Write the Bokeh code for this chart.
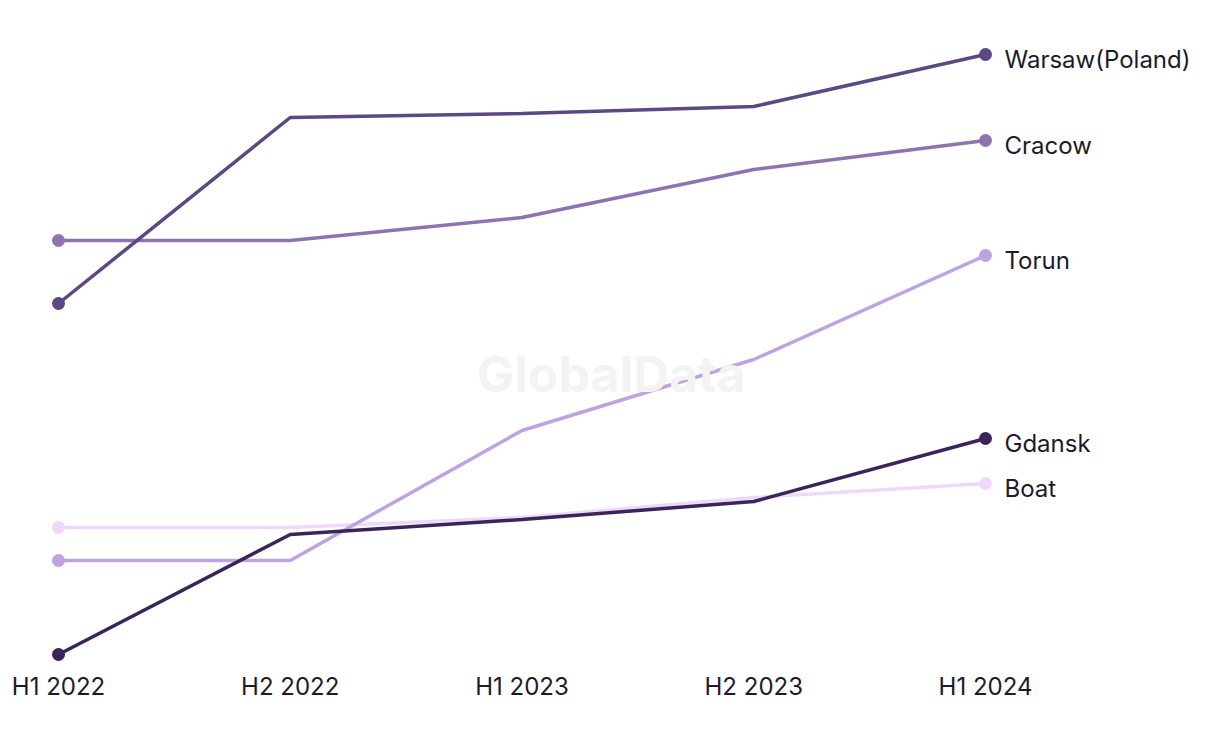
from bokeh.plotting import figure
from bokeh.models import Range1d, FixedTicker, Label, ColumnDataSource
from bokeh.core.properties import value
from bokeh.embed import file_html
from bokeh.resources import INLINE

periods = ["H1 2022", "H2 2022", "H1 2023", "H2 2023", "H1 2024"]
warsaw = [397, 583, 587, 594, 646]
cracow = [460, 460, 483, 531, 560]
torun = [140, 140, 270, 341, 445]
gdansk = [46, 166, 181, 199, 262]
boat = [173, 173, 183, 203, 217]

series = [
    ("Boat", boat, "#efd8fb"),
    ("Torun", torun, "#bea3e1"),
    ("Cracow", cracow, "#8d74b1"),
    ("Warsaw(Poland)", warsaw, "#5c4882"),
    ("Gdansk", gdansk, "#3a2458"),
]

FONT = "Inter"
TXT = "#1c1a2e"

x = list(range(len(periods)))
step = 231.75
p = figure(width=1220, height=744, output_backend="svg", toolbar_location=None,
           x_range=Range1d(-58 / step, (1220 - 58) / step),
           y_range=Range1d(35, 700),
           min_border_left=0, min_border_right=0, min_border_top=0, min_border_bottom=0)
p.outline_line_color = None
p.grid.visible = False
p.yaxis.visible = False
p.background_fill_color = "white"
p.border_fill_color = "white"

xa = p.xaxis[0]
xa.ticker = FixedTicker(ticks=x)
xa.major_label_overrides = {i: s for i, s in enumerate(periods)}
xa.axis_line_color = None
xa.major_tick_line_color = None
xa.minor_tick_line_color = None
xa.major_label_text_font = FONT
xa.major_label_text_font_size = "24px"
xa.major_label_text_color = TXT
xa.major_label_standoff = 0
p.min_border_bottom = 79

wm = Label(x=2.385, y=327, text="GlobalData", text_font=FONT, text_font_size="50px",
           text_font_style="bold", text_color="#f3f3f3", text_align="center",
           text_baseline="middle")
p.add_layout(wm)

for name, vals, col in series:
    p.line(x, vals, line_color=col, line_width=3.5)
    p.scatter([x[0], x[-1]], [vals[0], vals[-1]], size=13, fill_color=col,
              line_color=None)
    src = ColumnDataSource(dict(x=[x[-1]], y=[vals[-1]], t=[name]))
    p.text(x="x", y="y", text="t", source=src, x_offset=19, y_offset=5,
           text_font=value(FONT), text_font_size="24px", text_color=TXT,
           text_baseline="middle", text_align="left")

open("out.html", "w").write(file_html(p, INLINE))
